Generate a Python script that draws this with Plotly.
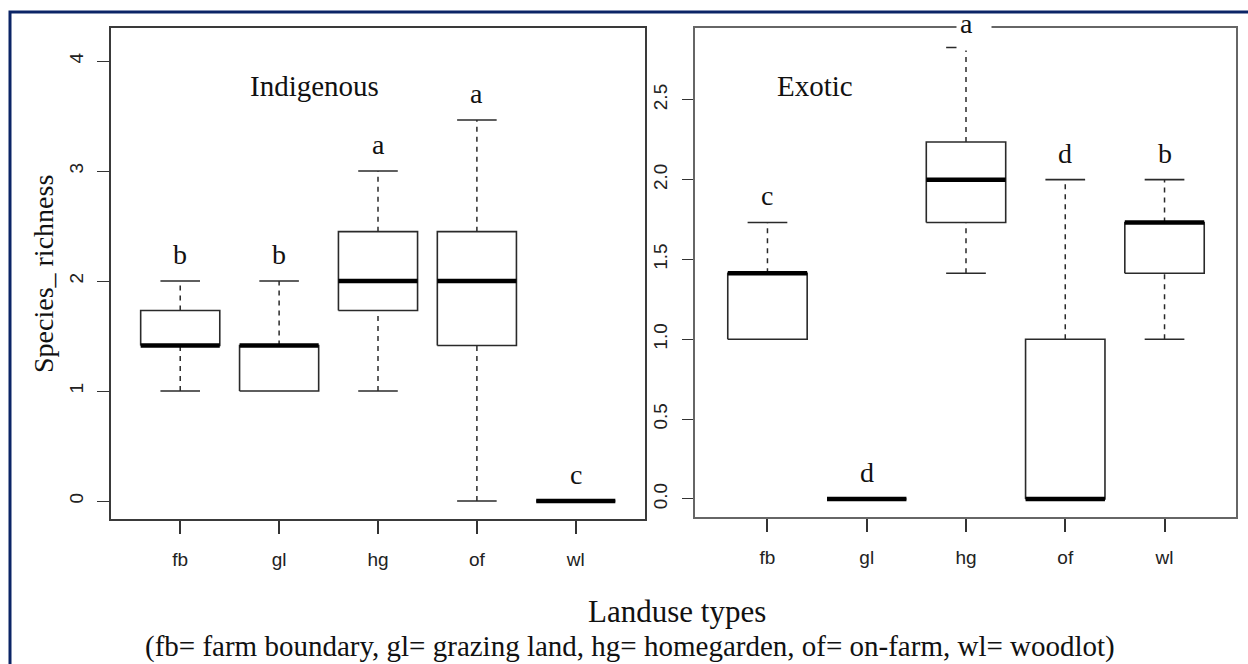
import plotly.graph_objects as go

# ---------------- data ----------------
categories = ["fb", "gl", "hg", "of", "wl"]

# Indigenous species richness (box statistics)
ind_lower = [1.0, 1.0, 1.0, 0.0, 0.0]
ind_q1 = [1.414, 1.0, 1.732, 1.414, 0.0]
ind_median = [1.414, 1.414, 2.0, 2.0, 0.0]
ind_q3 = [1.732, 1.414, 2.449, 2.449, 0.0]
ind_upper = [2.0, 2.0, 3.0, 3.464, 0.0]
ind_letters = ["b", "b", "a", "a", "c"]

# Exotic species richness (box statistics)
exo_lower = [1.0, 0.0, 1.414, 0.0, 1.0]
exo_q1 = [1.0, 0.0, 1.732, 0.0, 1.414]
exo_median = [1.414, 0.0, 2.0, 0.0, 1.732]
exo_q3 = [1.414, 0.0, 2.236, 1.0, 1.732]
exo_upper = [1.732, 0.0, 2.828, 2.0, 2.0]
exo_letters = ["c", "d", "a", "d", "b"]

panel_titles = ["Indigenous", "Exotic"]
y_title = "Species_ richness"
x_title = "Landuse types"
x_subtitle = "(fb= farm boundary, gl= grazing land, hg= homegarden, of= on-farm, wl= woodlot)"

ind_ticks = [0, 1, 2, 3, 4]
exo_ticks = [0.0, 0.5, 1.0, 1.5, 2.0, 2.5]

# ---------------- figure ----------------
W, H = 1248, 664
fig = go.Figure()

SERIF = "Liberation Serif"
SANS = "Liberation Sans"
BOX_HALF = 0.4
CAP_HALF = 0.2
LINE_C = "#2a2a2a"


def add_boxes(lower, q1, med, q3, upper, xa, ya):
    for i, cat in enumerate(categories):
        xc = i + 1
        # box body
        fig.add_trace(go.Scatter(
            x=[xc - BOX_HALF, xc + BOX_HALF, xc + BOX_HALF, xc - BOX_HALF, xc - BOX_HALF],
            y=[q1[i], q1[i], q3[i], q3[i], q1[i]],
            mode="lines", fill="toself", fillcolor="white",
            line=dict(color=LINE_C, width=1.6),
            xaxis=xa, yaxis=ya, hoverinfo="skip", showlegend=False))
        # whiskers (dashed) + caps
        if upper[i] > q3[i]:
            fig.add_trace(go.Scatter(
                x=[xc, xc], y=[q3[i], upper[i]], mode="lines",
                line=dict(color=LINE_C, width=1.5, dash="5px,5px"),
                xaxis=xa, yaxis=ya, hoverinfo="skip", showlegend=False))
            fig.add_trace(go.Scatter(
                x=[xc - CAP_HALF, xc + CAP_HALF], y=[upper[i], upper[i]], mode="lines",
                line=dict(color=LINE_C, width=1.6),
                xaxis=xa, yaxis=ya, hoverinfo="skip", showlegend=False))
        if lower[i] < q1[i]:
            fig.add_trace(go.Scatter(
                x=[xc, xc], y=[lower[i], q1[i]], mode="lines",
                line=dict(color=LINE_C, width=1.5, dash="5px,5px"),
                xaxis=xa, yaxis=ya, hoverinfo="skip", showlegend=False))
            fig.add_trace(go.Scatter(
                x=[xc - CAP_HALF, xc + CAP_HALF], y=[lower[i], lower[i]], mode="lines",
                line=dict(color=LINE_C, width=1.6),
                xaxis=xa, yaxis=ya, hoverinfo="skip", showlegend=False))
        # median (thick)
        fig.add_trace(go.Scatter(
            x=[xc - BOX_HALF, xc + BOX_HALF], y=[med[i], med[i]], mode="lines",
            line=dict(color="black", width=4.5),
            xaxis=xa, yaxis=ya, hoverinfo="skip", showlegend=False))


add_boxes(ind_lower, ind_q1, ind_median, ind_q3, ind_upper, "x", "y")
add_boxes(exo_lower, exo_q1, exo_median, exo_q3, exo_upper, "x2", "y2")

# axis ranges (R style, 4% extension)
ind_range = [-0.163, 4.30]
exo_range = [-0.113, 2.95]

axis_common = dict(
    showgrid=False, zeroline=False, showline=True, mirror=True,
    ticks="outside", tickcolor="#333",
    tickfont=dict(family=SANS, size=19, color="#222"),
)

fig.update_layout(
    width=W, height=H,
    margin=dict(l=0, r=0, t=0, b=0),
    paper_bgcolor="white", plot_bgcolor="white",
    showlegend=False,
    xaxis=dict(domain=[111 / W, 645 / W], range=[0.3, 5.7],
               tickvals=[1, 2, 3, 4, 5], ticktext=categories,
               ticklen=13, tickwidth=1.8, ticklabelstandoff=9,
               linecolor="#3a3a3a", linewidth=2, anchor="y", **axis_common),
    yaxis=dict(domain=[1 - 519 / H, 1 - 28 / H], range=ind_range,
               tickvals=ind_ticks, ticktext=[str(v) for v in ind_ticks],
               tickangle=-90, ticklen=12, tickwidth=1.2, ticklabelstandoff=6,
               linecolor="#3a3a3a", linewidth=2, anchor="x", **axis_common),
    xaxis2=dict(domain=[695 / W, 1236 / W], range=[0.27, 5.72],
                tickvals=[1, 2, 3, 4, 5], ticktext=categories,
                ticklen=13, tickwidth=1.8, ticklabelstandoff=9,
                linecolor="#666", linewidth=2, anchor="y2", **axis_common),
    yaxis2=dict(domain=[1 - 517 / H, 1 - 28 / H], range=exo_range,
                tickvals=exo_ticks, ticktext=[f"{v:.1f}" for v in exo_ticks],
                tickangle=-90, ticklen=11, tickwidth=1.2, ticklabelstandoff=7,
                linecolor="#666", linewidth=2, anchor="x2", **axis_common),
)

annotations = []


def add_letters(letters, upper, xa, ya, yr, px_per_unit):
    for i, let in enumerate(letters):
        xc = i + 1
        if upper[i] + 28 / px_per_unit > yr[1]:
            # letter sits on top frame with white background
            annotations.append(dict(
                x=xc, y=yr[1], xref=xa, yref=ya, text=" ", showarrow=False,
                width=32, height=32, bgcolor="white", xshift=8, yshift=-5,
                yanchor="middle", font=dict(family=SERIF, size=28)))
            annotations.append(dict(
                x=xc, y=yr[1], xref=xa, yref=ya, text=let, showarrow=False,
                yanchor="middle", yshift=4,
                font=dict(family=SERIF, size=28, color="#111")))
        else:
            annotations.append(dict(
                x=xc, y=upper[i], xref=xa, yref=ya, text=let, showarrow=False,
                yanchor="bottom", yshift=9,
                font=dict(family=SERIF, size=28, color="#111")))


add_letters(ind_letters, ind_upper, "x", "y", ind_range, 110)
add_letters(exo_letters, exo_upper, "x2", "y2", exo_range, 159.5)

# panel titles
annotations.append(dict(x=248 / W, y=1 - 86 / H, xref="paper", yref="paper",
                        text=panel_titles[0], showarrow=False, yanchor="middle",
                        font=dict(family=SERIF, size=29, color="#111")))
annotations.append(dict(x=855 / W, y=1 - 86 / H, xref="paper", yref="paper",
                        text=panel_titles[1], showarrow=False, yanchor="middle",
                        font=dict(family=SERIF, size=29, color="#111")))
# y axis title
annotations.append(dict(x=43 / W, y=1 - 274 / H, xref="paper", yref="paper",
                        text=y_title, showarrow=False, textangle=-90,
                        xanchor="center", yanchor="middle",
                        font=dict(family=SERIF, size=28, color="#111")))
# x titles
annotations.append(dict(x=677 / W, y=1 - 611 / H, xref="paper", yref="paper",
                        text=x_title, showarrow=False, yanchor="middle",
                        font=dict(family=SERIF, size=31, color="#111")))
annotations.append(dict(x=630 / W, y=1 - 646 / H, xref="paper", yref="paper",
                        text=x_subtitle, showarrow=False, yanchor="middle",
                        font=dict(family=SERIF, size=29, color="#111")))

fig.update_layout(annotations=annotations)

# outer navy frame (continues past right and bottom edges)
fig.add_shape(type="rect", xref="paper", yref="paper",
              x0=10 / W, x1=1.02, y0=-0.02, y1=1 - 12 / H,
              line=dict(color="#0b2466", width=3), fillcolor="rgba(0,0,0,0)",
              layer="above")

fig.write_html("out.html")
